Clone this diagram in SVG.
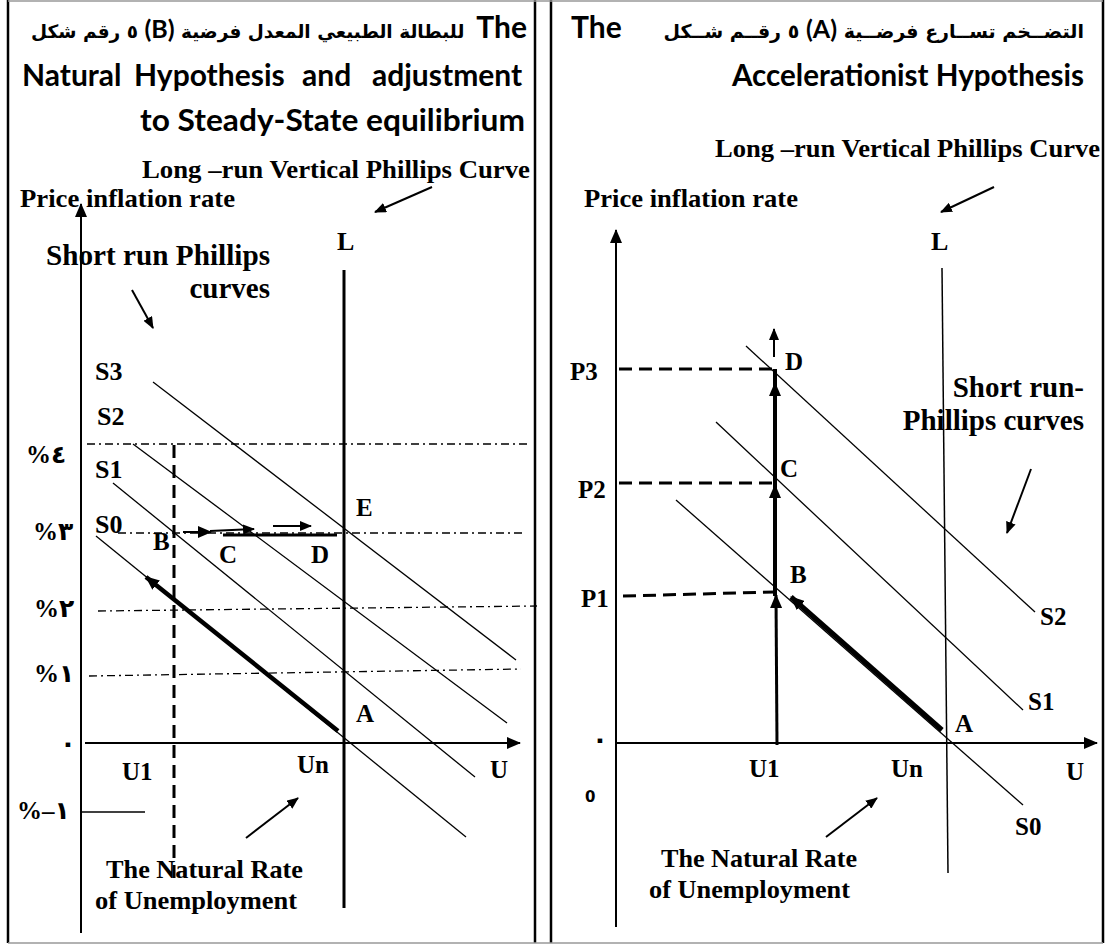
<svg xmlns="http://www.w3.org/2000/svg" width="1105" height="944" viewBox="0 0 1105 944">
<style>
.t{font-family:"Liberation Serif","Times New Roman","DejaVu Sans",serif;font-weight:bold;font-size:26px;fill:#000}
.p{font-size:25px}
.big{font-size:29px}
.h{font-family:Lato,"Open Sans","DejaVu Sans",sans-serif;font-weight:bold;font-size:30px;fill:#000}
.ar{font-family:"DejaVu Sans",sans-serif;font-weight:bold;font-size:19px;fill:#000}
.ln{stroke:#000;stroke-width:1.3;fill:none}
.dd{stroke:#000;stroke-width:1.3;fill:none;stroke-dasharray:8 4 2 4}
.ds{stroke:#000;stroke-width:3;fill:none;stroke-dasharray:13 7}
.ax{stroke:#000;stroke-width:2;fill:none}
.frame{stroke:#000;stroke-width:2.5}
.gray{stroke:#999;stroke-width:1.5}
</style>
<defs>
<marker id="ah" markerUnits="userSpaceOnUse" markerWidth="14" markerHeight="12" refX="13" refY="6" orient="auto"><path d="M0,0 L14,6 L0,12 z" fill="#000"/></marker>
<marker id="ahs" markerUnits="userSpaceOnUse" markerWidth="12" markerHeight="10" refX="11" refY="5" orient="auto"><path d="M0,0 L12,5 L0,10 z" fill="#000"/></marker>
</defs>
<g id="frames">
<line class="frame" x1="8" y1="0" x2="8" y2="943"/>
<line class="frame" x1="535" y1="0" x2="535" y2="943"/>
<line class="frame" x1="551" y1="0" x2="551" y2="943"/>
<line class="frame" x1="1103" y1="0" x2="1103" y2="943"/>
<line class="gray" x1="8" y1="1" x2="1103" y2="1"/>
<line class="gray" x1="8" y1="943" x2="1103" y2="943"/>
</g>
<g id="left-title">
<text class="ar" x="31" y="38" style="font-size:18.5px">شكل&#x200E; رقم&#x200E; ٥&#x200E; <tspan class="h" style="font-size:25px">(B)</tspan> فرضية&#x200E; المعدل&#x200E; الطبيعي&#x200E; للبطالة&#x200E;</text>
<text class="h" x="527" y="38" text-anchor="end">The</text>
<text class="h" y="86"><tspan x="22">Natural</tspan><tspan x="134">Hypothesis</tspan><tspan x="302">and</tspan><tspan x="372">adjustment</tspan></text>
<text class="h" x="140" y="131" textLength="385" lengthAdjust="spacingAndGlyphs">to Steady-State equilibrium</text>
</g>
<g id="right-title">
<text class="h" x="571" y="38">The</text>
<text class="ar" x="1084" y="38" text-anchor="end">شــكل&#x200E; رقــم&#x200E; ٥&#x200E; <tspan class="h" style="font-size:25px">(A)</tspan> فرضــية&#x200E; تســارع&#x200E; التضــخم&#x200E;</text>
<text class="h" x="732" y="86" textLength="352" lengthAdjust="spacingAndGlyphs">Accelerationist Hypothesis</text>
</g>
<g id="connectors">
<line class="ax" x1="81" y1="933" x2="81" y2="204" marker-end="url(#ah)"/>
<line class="ax" x1="85" y1="743" x2="520" y2="743" marker-end="url(#ah)"/>
<line x1="344" y1="270" x2="344" y2="908" stroke="#000" stroke-width="3"/>
<line class="dd" x1="87" y1="444" x2="528" y2="444"/>
<line class="dd" x1="118" y1="533" x2="523" y2="533"/>
<line class="dd" x1="98" y1="611" x2="537" y2="606"/>
<line class="dd" x1="89" y1="676" x2="521" y2="669"/>
<line class="ln" x1="153" y1="382" x2="516" y2="660"/>
<line class="ln" x1="133" y1="444" x2="507" y2="723"/>
<line class="ln" x1="113" y1="483" x2="475" y2="777"/>
<line class="ln" x1="96" y1="536" x2="466" y2="837"/>
<line class="ds" x1="174" y1="445" x2="174" y2="880"/>
<line class="ln" x1="81" y1="812" x2="145" y2="812"/>
<line x1="338" y1="731" x2="146" y2="577" stroke="#000" stroke-width="4.5" marker-end="url(#ah)"/>
<line x1="183" y1="532" x2="211" y2="532" stroke="#000" stroke-width="2" marker-end="url(#ah)"/>
<line x1="210" y1="531" x2="254" y2="529" stroke="#000" stroke-width="2" marker-end="url(#ahs)"/>
<line x1="223" y1="535" x2="337" y2="535" stroke="#000" stroke-width="3"/>
<line x1="273" y1="526" x2="311" y2="526" stroke="#000" stroke-width="2" marker-end="url(#ahs)"/>
<line class="ax" x1="132" y1="290" x2="153" y2="328" marker-end="url(#ahs)"/>
<line class="ax" x1="432" y1="187" x2="375" y2="212" marker-end="url(#ahs)"/>
<line class="ax" x1="246" y1="838" x2="298" y2="798" marker-end="url(#ahs)"/>
<line class="ax" x1="616" y1="927" x2="616" y2="230" marker-end="url(#ah)"/>
<line class="ax" x1="616" y1="743" x2="1097" y2="743" marker-end="url(#ah)"/>
<line x1="942" y1="268" x2="948" y2="873" stroke="#000" stroke-width="1.5"/>
<line class="ax" x1="994" y1="187" x2="941" y2="212" marker-end="url(#ahs)"/>
<line class="ds" x1="619" y1="369" x2="773" y2="369"/>
<line class="ds" x1="619" y1="483" x2="773" y2="483"/>
<line class="ds" x1="623" y1="596" x2="775" y2="592"/>
<line class="ln" x1="746" y1="346" x2="1035" y2="612"/>
<line class="ln" x1="716" y1="422" x2="1023" y2="710"/>
<line class="ln" x1="676" y1="500" x2="1023" y2="805"/>
<line x1="777" y1="745" x2="776" y2="595" stroke="#000" stroke-width="3" marker-end="url(#ah)"/>
<line x1="775" y1="596" x2="775" y2="485" stroke="#000" stroke-width="4" marker-end="url(#ah)"/>
<line x1="775" y1="485" x2="775" y2="383" stroke="#000" stroke-width="4" marker-end="url(#ah)"/>
<line x1="775" y1="390" x2="775" y2="369" stroke="#000" stroke-width="4"/>
<line class="ax" x1="774" y1="357" x2="774" y2="329" marker-end="url(#ahs)"/>
<line x1="942" y1="730" x2="791" y2="597" stroke="#000" stroke-width="5" marker-end="url(#ah)"/>
<line class="ax" x1="1031" y1="469" x2="1007" y2="533" marker-end="url(#ahs)"/>
<line class="ax" x1="826" y1="837" x2="877" y2="798" marker-end="url(#ahs)"/>
</g>
<g id="left-labels">
<text class="t" x="142" y="178" textLength="388" lengthAdjust="spacingAndGlyphs">Long –run Vertical Phillips Curve</text>
<text class="t" x="20" y="207" textLength="215" lengthAdjust="spacingAndGlyphs">Price inflation rate</text>
<text class="t" x="337" y="250">L</text>
<text class="t big" x="46" y="265" textLength="224" lengthAdjust="spacingAndGlyphs">Short run Phillips</text>
<text class="t big" x="270" y="298" text-anchor="end">curves</text>
<text class="t" x="95" y="380">S3</text>
<text class="t" x="97" y="425">S2</text>
<text class="t" x="95" y="478">S1</text>
<text class="t" x="95" y="533">S0</text>
<text class="t p" x="26" y="463">%٤</text>
<text class="t p" x="33" y="540">%٣</text>
<text class="t p" x="34" y="617">%٢</text>
<text class="t p" x="34" y="682">%١</text>
<text class="t p" x="17" y="819">%–١</text>
<text class="t" x="60" y="752">٠</text>
<text class="t p" x="356" y="516">E</text>
<text class="t p" x="153" y="550">B</text>
<text class="t p" x="219" y="563">C</text>
<text class="t p" x="311" y="563">D</text>
<text class="t p" x="356" y="722">A</text>
<text class="t p" x="122" y="780">U1</text>
<text class="t p" x="297" y="773">Un</text>
<text class="t p" x="490" y="778">U</text>
<text class="t" x="106" y="878" textLength="197" lengthAdjust="spacingAndGlyphs">The Natural Rate</text>
<text class="t" x="95" y="909" textLength="202" lengthAdjust="spacingAndGlyphs">of Unemployment</text>
</g>
<g id="right-labels">
<text class="t" x="715" y="157" textLength="385" lengthAdjust="spacingAndGlyphs">Long –run Vertical Phillips Curve</text>
<text class="t" x="584" y="207" textLength="214" lengthAdjust="spacingAndGlyphs">Price inflation rate</text>
<text class="t" x="931" y="250">L</text>
<text class="t p" x="570" y="380">P3</text>
<text class="t p" x="785" y="370">D</text>
<text class="t p" x="780" y="477">C</text>
<text class="t p" x="578" y="498">P2</text>
<text class="t p" x="790" y="583">B</text>
<text class="t p" x="581" y="607">P1</text>
<text class="t p" x="955" y="732">A</text>
<text class="t p" x="1040" y="625">S2</text>
<text class="t p" x="1028" y="710">S1</text>
<text class="t p" x="1015" y="835">S0</text>
<text class="t big" x="1084" y="397" text-anchor="end">Short run-</text>
<text class="t big" x="1084" y="430" text-anchor="end">Phillips curves</text>
<text class="t" x="592" y="748">٠</text>
<text x="585" y="802" style="font-family:'DejaVu Sans',sans-serif;font-weight:bold;font-size:15px">0</text>
<text class="t p" x="749" y="777">U1</text>
<text class="t p" x="891" y="777">Un</text>
<text class="t p" x="1066" y="780">U</text>
<text class="t" x="661" y="867" textLength="196" lengthAdjust="spacingAndGlyphs">The Natural Rate</text>
<text class="t" x="649" y="898" textLength="201" lengthAdjust="spacingAndGlyphs">of Unemployment</text>
</g>
</svg>
